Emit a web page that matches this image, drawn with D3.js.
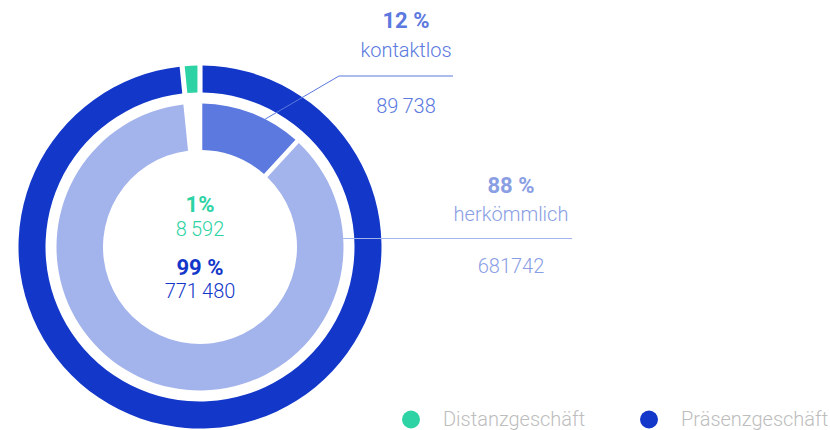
<!DOCTYPE html>
<html>
<head>
<meta charset="utf-8">
<script src="https://cdn.jsdelivr.net/npm/d3@7/dist/d3.min.js"></script>
<style>
  html, body { margin: 0; padding: 0; background: #fff; }
  svg { display: block; font-family: Roboto, "Noto Sans", sans-serif; }
</style>
</head>
<body>
<svg id="chart" width="830" height="430"></svg>
<script>
// ---- data ----
const outerCategories = ["Präsenzgeschäft", "Distanzgeschäft"];
const outerValues = [771480, 8592];
const outerPercents = ["99 %", "1%"];
const outerValueLabels = ["771\u2009480", "8\u2009592"];

const innerCategories = ["kontaktlos", "herkömmlich"];
const innerValues = [89738, 681742];
const innerPercents = ["12 %", "88 %"];
const innerValueLabels = ["89\u2009738", "681742"];

const legendCategories = ["Distanzgeschäft", "Präsenzgeschäft"];

// ---- styles ----
const colors = {
  "Präsenzgeschäft": "#1237C9",
  "Distanzgeschäft": "#2DD3A4",
  "kontaktlos": "#5B79DE",
  "herkömmlich": "#A3B3EB"
};
const textColors = {
  "kontaktlos": "#5B79DE",
  "herkömmlich": "#8A9EE4"
};
const regSize = 20, boldSize = 22;

const svg = d3.select("#chart");
const cx = 200, cy = 247;
const g = svg.append("g").attr("transform", `translate(${cx},${cy})`);

const total = d3.sum(outerValues);

// outer ring
const outerPie = d3.pie().sort(null).value(d => d.value).padAngle(0.03);
const outerData = outerPie(outerCategories.map((c, i) => ({ cat: c, value: outerValues[i] })));
const outerArc = d3.arc().innerRadius(154.5).outerRadius(181.5).padRadius(170);
g.selectAll("path.outer").data(outerData).join("path")
  .attr("class", "outer")
  .attr("d", outerArc)
  .attr("fill", d => colors[d.data.cat]);

// inner ring (scaled to the same total, remaining slot left empty)
const innerItems = innerCategories.map((c, i) => ({ cat: c, value: innerValues[i] }))
  .concat([{ cat: null, value: total - d3.sum(innerValues) }]);
const innerPie = d3.pie().sort(null).value(d => d.value).padAngle(0.032);
const innerData = innerPie(innerItems);
const innerArc = d3.arc().innerRadius(97).outerRadius(143.5).padRadius(143);
g.selectAll("path.inner").data(innerData.filter(d => d.data.cat)).join("path")
  .attr("class", "inner")
  .attr("d", innerArc)
  .attr("fill", d => colors[d.data.cat]);

// leader lines
function pt(angleDeg, r) {
  const a = angleDeg * Math.PI / 180;
  return [cx + r * Math.sin(a), cy - r * Math.cos(a)];
}
const k0 = pt(27, 143.5);
svg.append("polyline")
  .attr("points", [k0, [339, 76], [453, 76]].map(p => p.join(",")).join(" "))
  .attr("fill", "none").attr("stroke", colors["kontaktlos"]).attr("stroke-width", 1);

const h0 = pt(86.4, 143.5);
svg.append("line")
  .attr("x1", h0[0]).attr("y1", 238.5).attr("x2", 572).attr("y2", 238.5)
  .attr("stroke", colors["herkömmlich"]).attr("stroke-width", 1);

// side labels
const sideLabels = [
  { i: 0, x: 406, y: [28, 57, 113] },
  { i: 1, x: 511, y: [193, 221, 273] }
];
sideLabels.forEach(s => {
  const cat = innerCategories[s.i];
  const col = textColors[cat];
  svg.append("text").attr("x", s.x).attr("y", s.y[0]).attr("text-anchor", "middle")
    .attr("font-size", boldSize).attr("font-weight", 700).attr("fill", col).text(innerPercents[s.i]);
  svg.append("text").attr("x", s.x).attr("y", s.y[1]).attr("text-anchor", "middle")
    .attr("font-size", regSize).attr("font-weight", 300).attr("fill", col).text(cat);
  svg.append("text").attr("x", s.x).attr("y", s.y[2]).attr("text-anchor", "middle")
    .attr("font-size", regSize).attr("font-weight", 300).attr("fill", col).text(innerValueLabels[s.i]);
});

// center labels
const centerLabels = [
  { i: 1, y: [211.5, 236], col: "#2DD3A4" },
  { i: 0, y: [275, 298], col: "#1237C9" }
];
centerLabels.forEach(c => {
  svg.append("text").attr("x", cx).attr("y", c.y[0]).attr("text-anchor", "middle")
    .attr("font-size", boldSize).attr("font-weight", 700).attr("fill", c.col).text(outerPercents[c.i]);
  svg.append("text").attr("x", cx).attr("y", c.y[1]).attr("text-anchor", "middle")
    .attr("font-size", regSize).attr("font-weight", 300).attr("fill", c.col).text(outerValueLabels[c.i]);
});

// legend
const legendX = [411, 649];
legendCategories.forEach((cat, i) => {
  const lg = svg.append("g").attr("transform", `translate(${legendX[i]},419.5)`);
  lg.append("circle").attr("r", 9).attr("fill", colors[cat]);
  lg.append("text").attr("x", 32).attr("y", 6).attr("font-size", regSize).attr("font-weight", 300)
    .attr("fill", "#BDBDBD").text(cat);
});
</script>
</body>
</html>
